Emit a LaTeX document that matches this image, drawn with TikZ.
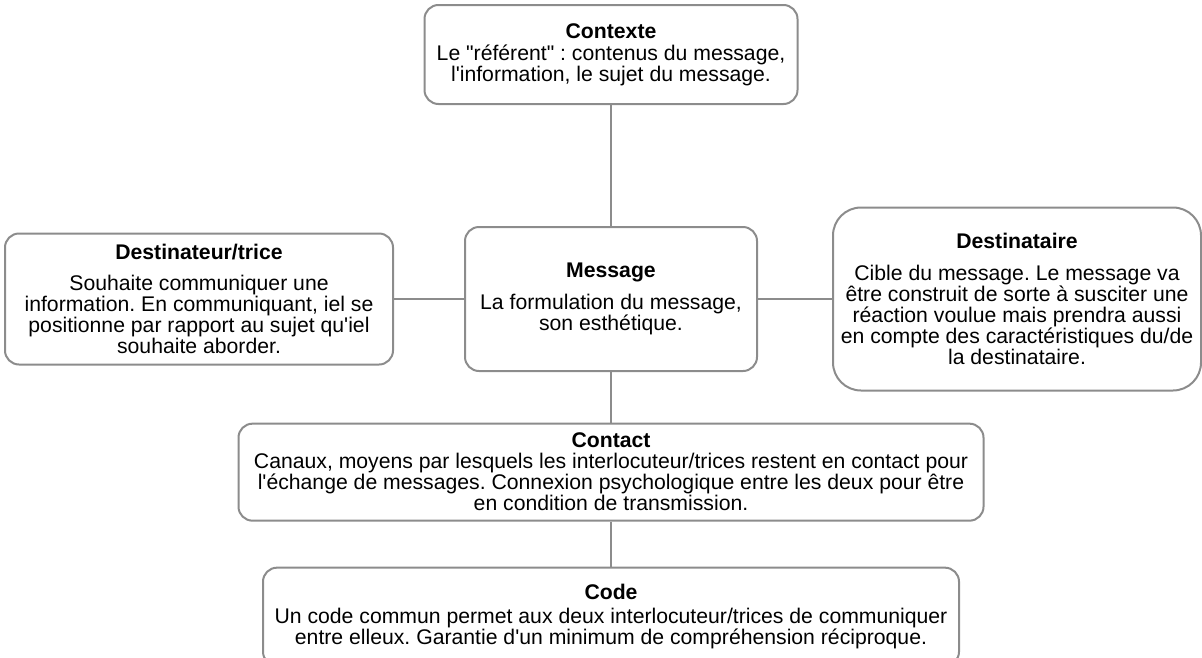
\documentclass[tikz,border=0pt]{standalone}
\usepackage{fontspec}
\setmainfont{Liberation Sans}
\usepackage{xcolor}
\usepackage{tikz}
\usetikzlibrary{positioning}
\definecolor{boxgray}{HTML}{8C8C8C}
\frenchspacing

\begin{document}
\begin{tikzpicture}[
    align = center,
    font = {\fontsize{15.9pt}{15.75pt}\selectfont},
    part/.style = {rectangle, rounded corners = 10.5pt, draw = boxgray, line width = 1.5pt, inner sep = 2pt},
    wide/.style = {part, rounded corners = 21pt},
    link/.style = {draw = boxgray, line width = 1.5pt},
    ]
    \useasboundingbox (0,0) rectangle (901.5pt,-492.75pt);

    % message in the middle, the other functions around it
    \node [part, minimum width = 219pt, minimum height = 108pt] (message) at (458.25pt,-224.25pt)
        {\textbf{Message}\\[8pt]La formulation du message,\\son esthétique.};
    \node [part, minimum width = 279.75pt, minimum height = 74.25pt] (contexte) [above = 90.75pt of message]
        {\textbf{Contexte}\\[1pt]Le \textquotedbl référent\textquotedbl{} : contenus du message,\\l\textquotesingle information, le sujet du message.};
    \node [part, minimum width = 291pt, minimum height = 98.25pt] (destinateur) [left = 52.5pt of message]
        {\textbf{Destinateur/trice}\\[8pt]Souhaite communiquer une\\information. En communiquant, iel se\\positionne par rapport au sujet qu\textquotesingle iel\\souhaite aborder.};
    \node [wide, minimum width = 276pt, minimum height = 137.25pt] (destinataire) [right = 55.5pt of message]
        {\textbf{Destinataire}\\[8pt]Cible du message. Le message va\\être construit de sorte à susciter une\\réaction voulue mais prendra aussi\\en compte des caractéristiques du/de\\la destinataire.};
    \node [part, minimum width = 558.75pt, minimum height = 72.75pt] (contact) [below = 38pt of message]
        {\textbf{Contact}\\Canaux, moyens par lesquels les interlocuteur/trices restent en contact pour\\l\textquotesingle échange de messages. Connexion psychologique entre les deux pour être\\en condition de transmission.};
    \node [part, minimum width = 522pt, minimum height = 73.5pt] (code) [below = 33.75pt of contact]
        {\textbf{Code}\\[2pt]Un code commun permet aux deux interlocuteur/trices de communiquer\\entre elleux. Garantie d\textquotesingle un minimum de compréhension réciproque.};

    \draw [link] (contexte) -- (message);
    \draw [link] (destinateur) -- (message);
    \draw [link] (message) -- (destinataire);
    \draw [link] (message) -- (contact);
    \draw [link] (contact) -- (code);
\end{tikzpicture}
\end{document}
